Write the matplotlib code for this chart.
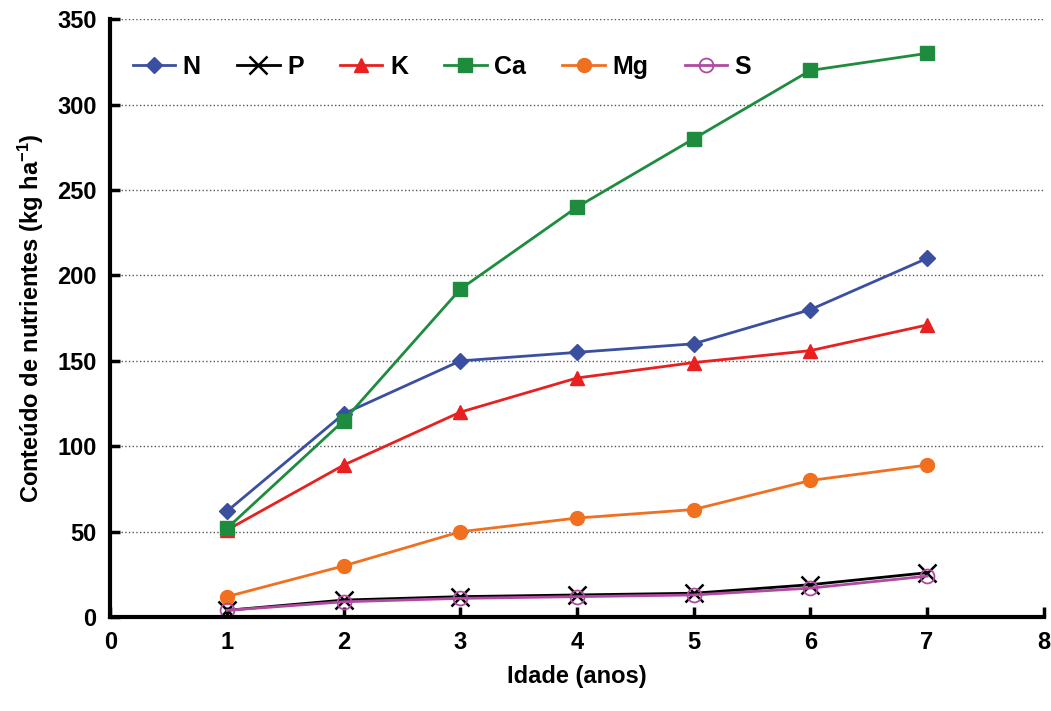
import matplotlib.pyplot as plt

plt.rcParams['font.family'] = ['Liberation Sans', 'DejaVu Sans']
plt.rcParams['font.weight'] = 'bold'
plt.rcParams['mathtext.fontset'] = 'custom'
plt.rcParams['mathtext.rm'] = 'Liberation Sans:bold'
plt.rcParams['mathtext.default'] = 'rm'

idade = [1, 2, 3, 4, 5, 6, 7]
N = [62, 119, 150, 155, 160, 180, 210]
P = [4, 10, 12, 13, 14, 19, 26]
K = [51, 89, 120, 140, 149, 156, 171]
Ca = [52, 115, 192, 240, 280, 320, 330]
Mg = [12, 30, 50, 58, 63, 80, 89]
S = [4, 9, 11, 12, 13, 17, 24]

fig = plt.figure(figsize=(10.51, 7.11), dpi=100)
ax = fig.add_axes([0.105, 0.132, 0.888, 0.841])

ax.plot(idade, N, color='#3a4fa0', marker='D', ms=8, lw=2, label='N')
ax.plot(idade, P, color='black', marker='x', ms=13, mew=1.8, lw=2, label='P')
ax.plot(idade, K, color='#e8201f', marker='^', ms=10, lw=2, label='K')
ax.plot(idade, Ca, color='#1e8c3e', marker='s', ms=10, lw=2, label='Ca')
ax.plot(idade, Mg, color='#f07020', marker='o', ms=10, lw=2, label='Mg')
ax.plot(idade, S, color='#b04aa0', marker='o', ms=10, mfc='none', mew=1.3, lw=2, label='S')

ax.set_xlim(0, 8)
ax.set_ylim(0, 350)
ax.set_xticks(range(0, 9))
ax.set_yticks(range(0, 351, 50))
ax.yaxis.grid(True, linestyle=':', color='#555555', lw=1)
ax.set_axisbelow(True)

for side in ['top', 'right']:
    ax.spines[side].set_visible(False)
for side in ['left', 'bottom']:
    ax.spines[side].set_linewidth(3)
ax.tick_params(direction='in', length=7, width=2.5, labelsize=17, pad=10)

ax.set_xlabel('Idade (anos)', fontsize=17, fontweight='bold', labelpad=8)
ax.set_ylabel('Conteúdo de nutrientes (kg ha$^{-1}$)', fontsize=17, fontweight='bold', labelpad=8)

ax.legend(loc='upper left', ncol=6, frameon=False, fontsize=18, bbox_to_anchor=(0.0, 0.978),
          handlelength=1.7, columnspacing=1.45, handletextpad=0.3)

fig.savefig('out.png', dpi=100)
